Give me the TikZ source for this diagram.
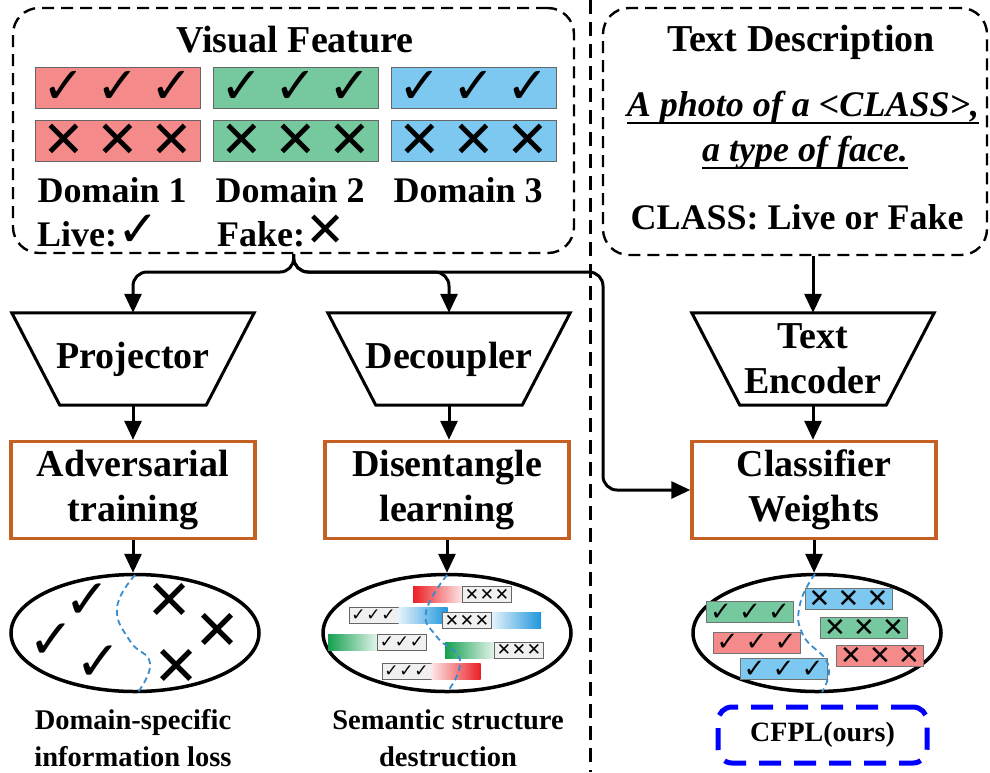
\documentclass[tikz,border=0pt]{standalone}
\usepackage{fontspec}
\setmainfont{Liberation Serif}
\newfontfamily\symfont{DejaVu Sans}
\usetikzlibrary{arrows.meta,shapes.geometric}
\definecolor{fred}{RGB}{244,138,138}
\definecolor{fgreen}{RGB}{118,200,158}
\definecolor{fblue}{RGB}{125,200,240}
\definecolor{stagecol}{RGB}{197,96,36}
\definecolor{splitcol}{RGB}{58,140,205}
\definecolor{gred}{RGB}{235,30,35}
\definecolor{ggreen}{RGB}{20,160,80}
\definecolor{gblue}{RGB}{30,150,220}
\newcommand{\okmark}{{\symfont\bfseries ✓}}
\newcommand{\nomark}{{\symfont\bfseries ✕}}
\newcommand{\trio}[2]{\makebox[#1]{#2}\makebox[#1]{#2}\makebox[#1]{#2}}
\newcommand{\funnel}[1]{\draw[line width=3pt,line join=miter] (#1.north west) -- (#1.north east) -- ([xshift=-48pt]#1.south east) -- ([xshift=48pt]#1.south west) -- cycle;}
\newcommand{\underrule}[1]{\draw[line width=2.2pt] ([yshift=-6pt]#1.base west) -- ([yshift=-6pt]#1.base east);}

\begin{document}
\begin{tikzpicture}[x=1pt,y=-1pt,
    dashbox/.style={draw,line width=2.4pt,dash pattern=on 12pt off 7pt,rounded corners=26pt},
    title/.style={font=\fontsize{38}{42}\selectfont\bfseries,inner sep=0pt},
    lbl/.style={font=\fontsize{36}{40}\selectfont\bfseries,inner sep=0pt},
    prompt/.style={font=\fontsize{36}{40}\selectfont\bfseries\itshape,inner sep=0pt},
    bar/.style={draw=black!60,line width=0.8pt,minimum width=165pt,minimum height=41pt,inner sep=0pt,font=\fontsize{51}{44}\selectfont},
    funnelnode/.style={minimum width=242pt,minimum height=92pt,inner sep=0pt,align=center,font=\fontsize{38}{45}\selectfont\bfseries},
    stage/.style={draw=stagecol,line width=3.5pt,minimum width=244pt,minimum height=97pt,inner sep=0pt,align=center,font=\fontsize{38}{45}\selectfont\bfseries},
    cloud/.style={ellipse,draw,line width=3.5pt,minimum width=248pt,minimum height=117pt,inner sep=0pt},
    flow/.style={-{Triangle[length=19pt,width=17pt]},line width=3pt},
    divider/.style={line width=3pt,dash pattern=on 14pt off 8pt},
    split/.style={draw=splitcol,line width=1.8pt,dash pattern=on 6pt off 4pt},
    bigmark/.style={inner sep=0pt,font=\fontsize{55}{55}\selectfont},
    tag/.style={draw=black!60,fill=black!6,line width=0.8pt,minimum width=49pt,minimum height=16pt,inner sep=0pt,font=\fontsize{17}{17}\selectfont},
    grad/.style={minimum width=49pt,minimum height=16pt,inner sep=0pt},
    chip/.style={draw=black!55,line width=0.8pt,minimum width=86pt,minimum height=21pt,inner sep=0pt,font=\fontsize{26}{25}\selectfont},
    note/.style={align=center,inner sep=0pt,font=\fontsize{28.5}{37}\selectfont\bfseries},
    ours/.style={draw=blue,line width=5pt,dash pattern=on 22pt off 13pt,rounded corners=14pt,minimum width=209pt,minimum height=56pt,font=\fontsize{28}{30}\selectfont\bfseries}]
\useasboundingbox (0,0) rectangle (990,772);

% visual feature
\node[dashbox,minimum width=561pt,minimum height=245pt] (vis) at (293.5,130.5) {};
\node[title] (vistitle) at (295,40) {Visual Feature};
\foreach \n/\c/\x in {1/fred/117.5,2/fgreen/295.5,3/fblue/473.5}{
    \node[bar,fill=\c] (live\n) at (\x,87.5) {\trio{54pt}{\okmark}};
    \node[bar,fill=\c] (fake\n) at (\x,141) {\trio{54pt}{\nomark}};
    \node[lbl,anchor=west] (dom\n) at (\x-80,190) {Domain \n};
}
\node[lbl,anchor=west] (live) at (37,231) {Live:{\fontsize{50}{40}\selectfont\okmark}};
\node[lbl,anchor=west] (fake) at (217,231) {Fake:{\fontsize{48}{40}\selectfont\nomark}};

% text description
\node[dashbox,minimum width=384pt,minimum height=247pt] (txt) at (795,131.5) {};
\node[title] (txttitle) at (801,42) {Text Description};
\node[prompt] (p1) at (803,108) {A photo of a <CLASS>,};
\node[prompt] (p2) at (805,153) {a type of face.};
\underrule{p1} \underrule{p2}
\node[lbl] (clsname) at (797,217) {CLASS: Live or Fake};

\draw[divider] (590,0) -- (590,772);

% encoders
\node[funnelnode] (proj) at (133,359) {Projector};
\node[funnelnode] (dec) at (449,359) {Decoupler};
\node[funnelnode] (enc) at (813,359) {Text\\Encoder};
\foreach \f in {proj,dec,enc} \funnel{\f};

\node[stage] (adv) at (133,490) {Adversarial\\training};
\node[stage] (dis) at (447,490) {Disentangle\\learning};
\node[stage] (clw) at (814,490) {Classifier\\Weights};

\node[cloud] (e1) at (135,633) {};
\node[cloud] (e2) at (447,633) {};
\node[cloud] (e3) at (817,633) {};

% connectors
\coordinate (hub) at (294,272);
\coordinate (tap) at (603,272);
\draw[flow,rounded corners=14pt] (vis.south) -- (hub) -| (proj.north);
\draw[flow,rounded corners=14pt] (vis.south) -- (hub) -| (dec.north);
\draw[flow,rounded corners=14pt] (vis.south) -- (hub) -- (tap) |- (clw.west);
\draw[flow] (txt.south -| enc.north) -- (enc.north);
\draw[flow] (proj.south) -- (adv.north);
\draw[flow] (dec.south) -- (dec.south |- dis.north);
\draw[flow] (enc.south) -- (enc.south |- clw.north);
\draw[flow] (adv.south) -- (adv.south |- e1.north);
\draw[flow] (dis.south) -- (dis.south |- e2.north);
\draw[flow] (clw.south) -- (clw.south |- e3.north);

% scattered marks
\foreach \x/\y [count=\k] in {88/601,52/641,99/663} \node[bigmark] (ok\k) at (\x,\y) {\okmark};
\foreach \x/\y [count=\k] in {170/601,218/631,177/667} \node[bigmark] (no\k) at (\x,\y) {\nomark};
\draw[split] plot[smooth,tension=0.8] coordinates {(135,575) (117,608) (130,641) (150,663) (138,692)};

% broken features
\node[grad,left color=gred,right color=gred!12] (g1) at (437.5,594.5) {};
\node[tag,anchor=west] (t1) at (g1.east) {\trio{15pt}{\nomark}};
\node[tag] (t2) at (373.5,615) {\trio{15pt}{\okmark}};
\node[grad,anchor=west,left color=gblue!12,right color=gblue] (g2) at (t2.east) {};
\node[tag] (t3) at (467,620.5) {\trio{15pt}{\nomark}};
\node[grad,anchor=west,left color=gblue!12,right color=gblue] (g3) at (t3.east) {};
\node[grad,left color=ggreen,right color=ggreen!12] (g4) at (352.5,642.5) {};
\node[tag,anchor=west] (t4) at (g4.east) {\trio{15pt}{\okmark}};
\node[grad,left color=ggreen,right color=ggreen!12] (g5) at (469.5,650) {};
\node[tag,anchor=west] (t5) at (g5.east) {\trio{15pt}{\nomark}};
\node[tag] (t6) at (406.5,671.5) {\trio{15pt}{\okmark}};
\node[grad,anchor=west,left color=gred!12,right color=gred] (g6) at (t6.east) {};
\draw[split] plot[smooth,tension=0.8] coordinates {(447,575) (426,612) (437,637) (460,660) (448,691)};

% aligned features
\node[chip,fill=fblue] (c1) at (848.5,598.5) {\trio{29pt}{\nomark}};
\node[chip,fill=fgreen] (c2) at (750,612) {\trio{29pt}{\okmark}};
\node[chip,fill=fgreen] (c3) at (864,628) {\trio{29pt}{\nomark}};
\node[chip,fill=fred] (c4) at (756.5,642.5) {\trio{29pt}{\okmark}};
\node[chip,fill=fred] (c5) at (880,656) {\trio{29pt}{\nomark}};
\node[chip,fill=fblue] (c6) at (783.5,669) {\trio{29pt}{\okmark}};
\draw[split] plot[smooth,tension=0.8] coordinates {(815,574) (800,604) (803,635) (828,664) (822,692)};

\node[note] (n1) at (133,738) {Domain-specific\\information loss};
\node[note] (n2) at (448,738) {Semantic structure\\destruction};
\node[ours] (cfpl) at (822.5,735) {CFPL(ours)};
\end{tikzpicture}
\end{document}
